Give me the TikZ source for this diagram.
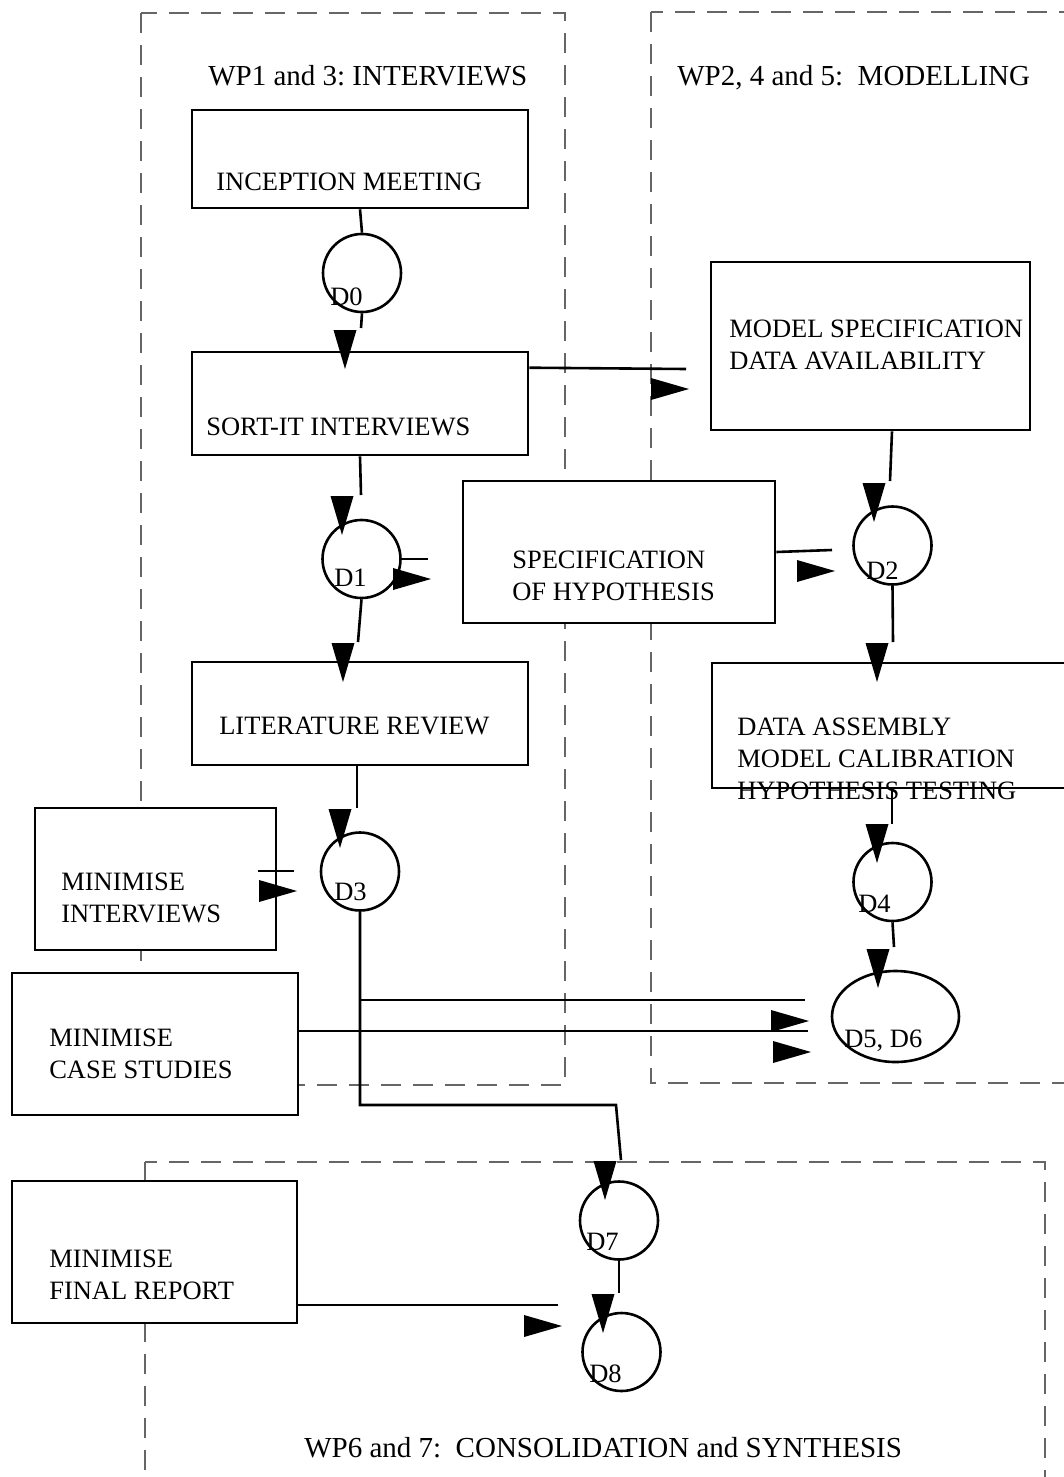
\documentclass[tikz,border=0pt]{standalone}
\usepackage{fontspec}
\setmainfont{Liberation Serif}
\usetikzlibrary{shapes.geometric}
\frenchspacing
\def\tipdown(#1,#2){\fill (#1-11.5,#2-39) -- (#1+11.5,#2-39) -- (#1,#2) -- cycle;}
\def\tipright(#1,#2){\fill (#1-38,#2-11) -- (#1-38,#2+11) -- (#1,#2) -- cycle;}

\begin{document}
\begin{tikzpicture}[x=1pt, y=-1pt, line width=2.6pt,
	box/.style={draw, fill=white, rectangle, inner sep=0pt},
	disc/.style={draw, circle, inner sep=0pt, minimum size=78pt},
	txt/.style={anchor=base west, inner sep=0pt, align=left, font=\fontsize{26.5}{32}\selectfont},
	title/.style={anchor=base west, inner sep=0pt, font=\fontsize{29}{35}\selectfont},
	wp/.style={draw=black!60, line width=1.2pt, dash pattern=on 20pt off 12pt}]
			%%%%% START %%%%%
			
			\useasboundingbox (0,0) rectangle (1064,1477);
			
			\draw[wp] (141,13) rectangle (565,1085);
			\draw[wp] (651,12) rectangle (1090,1083);
			\draw[wp] (145,1162) rectangle (1045,1500);
			
			\node[title] (t1) at (207,86) {WP1 and 3: INTERVIEWS};
			\node[title] (t2) at (676,86) {WP2, 4 and 5:\ \ MODELLING};
			\node[title] (t3) at (303,1457) {WP6 and 7:\ \ CONSOLIDATION and SYNTHESIS};
			
			\node[box, minimum width=336pt, minimum height=98pt] (incep) at (360,159) {};
			\node[box, minimum width=336pt, minimum height=103pt] (sortit) at (360,403.5) {};
			\node[box, minimum width=312pt, minimum height=142pt] (spec) at (619,552) {};
			\node[box, minimum width=319pt, minimum height=168pt] (modspec) at (870.5,346) {};
			\node[box, minimum width=336pt, minimum height=103pt] (litrev) at (360,713.5) {};
			\node[box, minimum width=370pt, minimum height=125pt] (dataasm) at (897,725.5) {};
			\node[box, minimum width=241pt, minimum height=142pt] (minint) at (155.5,879) {};
			\node[box, minimum width=286pt, minimum height=142pt] (mincase) at (155,1044) {};
			\node[box, minimum width=285pt, minimum height=142pt] (minrep) at (154.5,1252) {};
			
			% multi-line labels sit on the baseline of their last line
			\node[txt] (incept) at (215,190) {INCEPTION MEETING};
			\node[txt] (sortitt) at (205,435) {SORT-IT INTERVIEWS};
			\node[txt] (spect) at (511,600) {SPECIFICATION\\OF HYPOTHESIS};
			\node[txt] (modspect) at (728,369) {MODEL SPECIFICATION\\DATA AVAILABILITY};
			\node[txt] (litrevt) at (218,734) {LITERATURE REVIEW};
			\node[txt] (dataasmt) at (736,799) {DATA ASSEMBLY\\MODEL CALIBRATION\\HYPOTHESIS TESTING};
			\node[txt] (mintt) at (60,922) {MINIMISE\\INTERVIEWS};
			\node[txt] (mincaset) at (48,1078) {MINIMISE\\CASE STUDIES};
			\node[txt] (minrept) at (48,1299) {MINIMISE\\FINAL REPORT};
			
			\node[disc] (d0) at (362,273) {};
			\node[disc] (d1) at (361.5,559) {};
			\node[disc] (d2) at (892.5,545.5) {};
			\node[disc] (d3) at (360,871.5) {};
			\node[disc] (d4) at (892.5,882) {};
			\node[draw, ellipse, inner sep=0pt, minimum width=127pt, minimum height=91pt] (d56) at (895.5,1016.5) {};
			\node[disc] (d7) at (619,1220.5) {};
			\node[disc] (d8) at (621.5,1352) {};
			
			\node[txt] (d0t) at (329,305) {D0};
			\node[txt] (d1t) at (333,586) {D1};
			\node[txt] (d2t) at (865,579) {D2};
			\node[txt] (d3t) at (333,900) {D3};
			\node[txt] (d4t) at (857,912) {D4};
			\node[txt] (d56t) at (843,1047) {D5, D6};
			\node[txt] (d7t) at (585,1250) {D7};
			\node[txt] (d8t) at (588,1382) {D8};
			
			% loose ends of the connectors
			\coordinate (e0) at (361,328);
			\coordinate (e1) at (686,369);
			\coordinate (e2) at (361,495);
			\coordinate (e3) at (428,559);
			\coordinate (e4) at (358,642);
			\coordinate (e5) at (832,550);
			\coordinate (e6) at (890,481);
			\coordinate (e7) at (893,642);
			\coordinate (e8) at (357,808);
			\coordinate (e9) at (892,824);
			\coordinate (e10) at (894,947);
			\coordinate (e11) at (294,871);
			\coordinate (k1) at (616,1105);
			\coordinate (e12) at (621,1160);
			\coordinate (e13) at (805,1000);
			\coordinate (e14) at (808,1031);
			\coordinate (e15) at (619,1293);
			\coordinate (e16) at (558,1305);
			
			\draw (incep.south) -- (d0.north);
			\draw (d0.south) -- (e0);
			\tipdown(345,369)
			\draw ([yshift=-17pt]sortit.north east) -- (e1);
			\tipright(689,389)
			\draw (sortit.south) -- (e2);
			\tipdown(342,535)
			\draw (d1.east) -- (e3);
			\tipright(431,579)
			\draw (d1.south) -- (e4);
			\tipdown(343,682)
			\draw (spec.east) -- (e5);
			\tipright(835,571)
			\draw ([xshift=21.5pt]modspec.south) -- (e6);
			\tipdown(874,522)
			\draw (d2.south) -- (e7);
			\tipdown(877,682)
			\draw ([xshift=-3pt]litrev.south) -- (e8);
			\tipdown(340,848)
			\draw ([xshift=-5pt]dataasm.south) -- (e9);
			\tipdown(877,863)
			\draw (d4.south) -- (e10);
			\tipdown(878,988)
			\draw ([xshift=-19pt,yshift=8pt]minint.east) -- (e11);
			\tipright(297,891)
			
			\draw (d3.south) |- (k1) -- (e12);
			\tipdown(605,1200)
			\draw (d3.south |- e13) -- (e13);
			\tipright(809,1021)
			\draw ([yshift=13pt]mincase.east) -- (e14);
			\tipright(811,1052)
			
			\draw (d7.south) -- (e15);
			\tipdown(603,1333)
			\draw ([yshift=-53pt]minrep.east) -- (e16);
			\tipright(562,1326)
			
			%%%%% END %%%%%
\end{tikzpicture}
\end{document}
